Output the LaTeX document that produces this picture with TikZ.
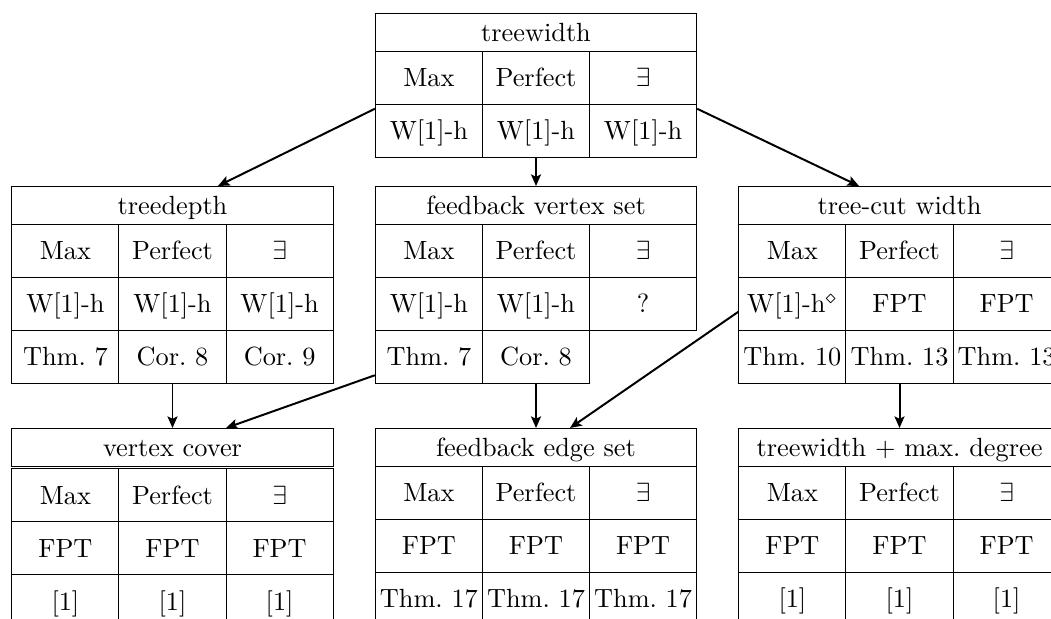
\documentclass[tikz,border=0pt]{standalone}
\usepackage{array}
\usepackage{amsmath,amssymb}
\usepackage{tikz}
\usetikzlibrary{calc,arrows.meta}
\tikzset{>={Stealth[length=4.4pt,width=3.8pt,inset=0.9pt]}}
\tikzset{
  tbl/.style={inner sep=0pt,outer sep=0pt,anchor=north},
  arr/.style={line width=0.75pt,->}
}
\setlength{\tabcolsep}{1pt}
\setlength{\doublerulesep}{0.6pt}
\newcommand{\rowstrut}{\rule[-6.44pt]{0pt}{19.74pt}}
\newcommand{\headstrut}{\rule[-3.4pt]{0pt}{13.66pt}}
\newcolumntype{C}{>{\centering\arraybackslash\rowstrut}p{38.3pt}}

\begin{document}
\begin{tikzpicture}[x=0.38pt,y=-0.38pt]
  \path[use as bounding box,clip] (0,0) rectangle (1051,619);
  % top
  \node[tbl] at (536,13) (tw) {\begin{tabular}{|C|C|C|}\hline
    \multicolumn{3}{|c|}{\headstrut treewidth}\\\hline
    Max & Perfect & $\exists$\\\hline
    W[1]-h & W[1]-h & W[1]-h\\\hline
  \end{tabular}};
  % middle row
  \node[tbl] at (172.5,186) (td) {\begin{tabular}{|C|C|C|}\hline
    \multicolumn{3}{|c|}{\headstrut treedepth}\\\hline
    Max & Perfect & $\exists$\\\hline
    W[1]-h & W[1]-h & W[1]-h\\\hline
    Thm.~7 & Cor.~8 & Cor.~9\\\hline
  \end{tabular}};
  \node[tbl] at (536,186) (fvs) {\begin{tabular}{|C|C|C|}\hline
    \multicolumn{3}{|c|}{\headstrut feedback vertex set}\\\hline
    Max & Perfect & $\exists$\\\hline
    W[1]-h & W[1]-h & ?\\\hline
    Thm.~7 & Cor.~8 & \multicolumn{1}{c}{}\\\cline{1-2}
  \end{tabular}};
  \node[tbl] at (899.5,186) (tcw) {\begin{tabular}{|C|C|C|}\hline
    \multicolumn{3}{|c|}{\headstrut tree-cut width}\\\hline
    Max & Perfect & $\exists$\\\hline
    W[1]-h$^\diamond$ & FPT & FPT\\\hline
    Thm.~10 & Thm.~13 & Thm.~13\\\hline
  \end{tabular}};
  % bottom row
  \node[tbl] at (172.5,428) (vc) {\begin{tabular}{|C|C|C|}\hline
    \multicolumn{3}{|c|}{\headstrut vertex cover}\\\hline\hline
    Max & Perfect & $\exists$\\\hline
    FPT & FPT & FPT\\\hline
    [1] & [1] & [1]\\\hline
  \end{tabular}};
  \node[tbl] at (536,428) (fes) {\begin{tabular}{|C|C|C|}\hline
    \multicolumn{3}{|c|}{\headstrut feedback edge set}\\\hline
    Max & Perfect & $\exists$\\\hline
    FPT & FPT & FPT\\\hline
    Thm.~17 & Thm.~17 & Thm.~17\\\hline
  \end{tabular}};
  \node[tbl] at (899.5,428) (twd) {\begin{tabular}{|C|C|C|}\hline
    \multicolumn{3}{|c|}{\headstrut treewidth $+$ max.\ degree}\\\hline
    Max & Perfect & $\exists$\\\hline
    FPT & FPT & FPT\\\hline
    {[1]} & {[1]} & {[1]}\\\hline
  \end{tabular}};
  % arrows
  \draw[arr] ($(tw.west)+(0,23.5)$) -- ($(td.north)+(45.5,0)$);
  \draw[arr] (tw.south) -- (fvs.north);
  \draw[arr] ($(tw.east)+(0,23.5)$) -- ($(tcw.north)+(-40.5,0)$);
  \draw[arr] (td.south) -- (vc.north);
  \draw[arr] ($(fvs.west)+(0,91)$) -- ($(vc.north)+(53.5,0)$);
  \draw[arr] (fvs.south) -- (fes.north);
  \draw[arr] ($(tcw.west)+(0,27)$) -- ($(fes.north)+(34,0)$);
  \draw[arr] (tcw.south) -- (twd.north);
\end{tikzpicture}
\end{document}
